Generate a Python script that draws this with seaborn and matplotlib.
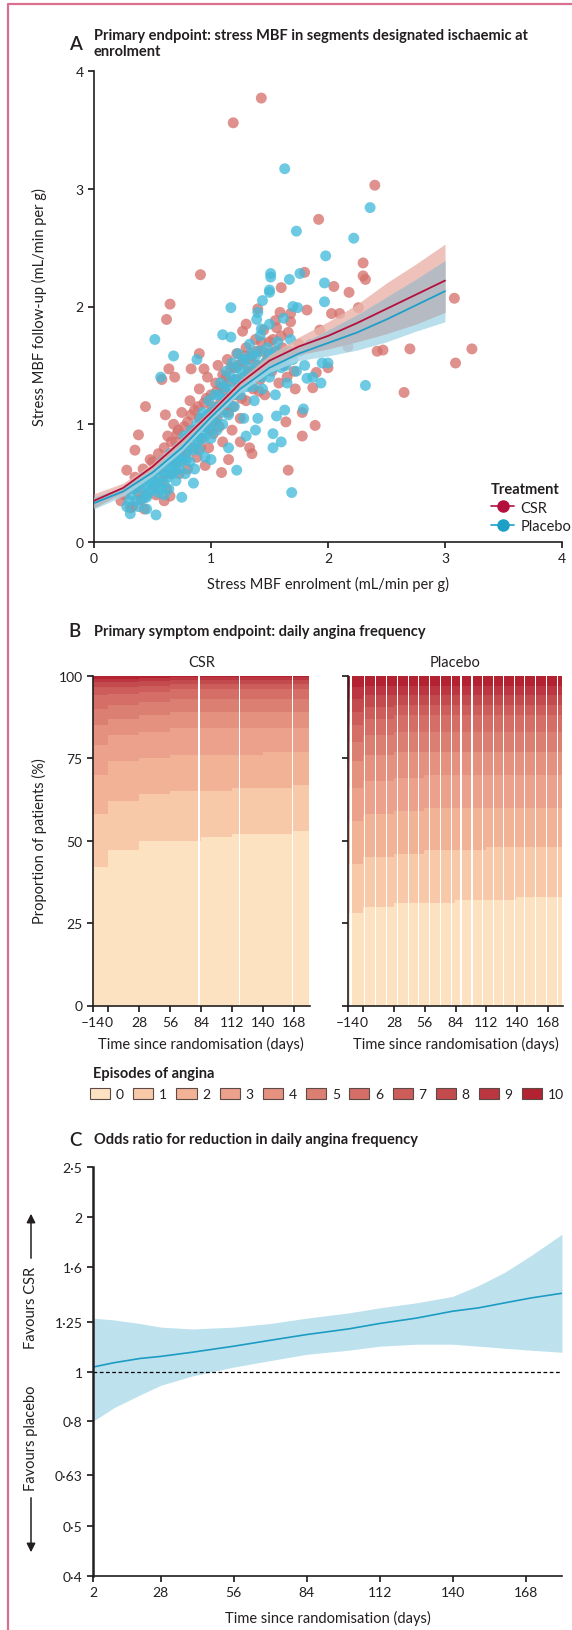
import matplotlib
matplotlib.use("Agg")
import matplotlib.pyplot as plt
from matplotlib.lines import Line2D
from matplotlib.patches import Patch
from matplotlib.ticker import NullLocator
import pandas as pd
import seaborn as sns

# ---------------- panel A: stress MBF scatter + spline fits ----------------
csr_pts = [
    (1.43, 3.77), (1.19, 3.56), (2.40, 3.03), (1.92, 2.74), (2.30, 2.37), (0.91, 2.27),
    (2.30, 2.26), (2.32, 2.23), (1.80, 2.29), (2.05, 2.17), (1.60, 2.16), (2.18, 2.12),
    (3.08, 2.07), (3.23, 1.64), (3.09, 1.52), (2.70, 1.64), (2.42, 1.62), (2.47, 1.63),
    (2.17, 1.66), (2.65, 1.27), (2.26, 1.99), (2.03, 1.94), (2.10, 1.94), (1.93, 1.80),
    (1.82, 1.97), (2.00, 1.48), (1.90, 1.44), (1.87, 1.31), (1.78, 1.10), (1.89, 0.99),
    (1.78, 0.90), (0.65, 2.02), (0.62, 1.89), (0.58, 1.38), (0.69, 1.40), (0.64, 1.47),
    (0.44, 1.15), (0.61, 1.08), (0.38, 0.91), (0.35, 0.78), (0.28, 0.61), (0.23, 0.35),
    (0.31, 0.29), (0.43, 0.28), (0.65, 0.39), (1.09, 0.59), (1.33, 0.80), (1.66, 0.61),
    (1.64, 1.02), (1.27, 1.79), (0.90, 1.60), (0.83, 1.47), (0.94, 1.47), (1.40, 1.98),
    (1.59, 1.95), (1.56, 1.82), (1.68, 1.87), (1.68, 1.94),
    (0.30, 0.45), (0.35, 0.55), (0.40, 0.50), (0.42, 0.62), (0.45, 0.40), (0.48, 0.70),
    (0.50, 0.58), (0.52, 0.48), (0.55, 0.75), (0.55, 0.62), (0.58, 0.52), (0.60, 0.80),
    (0.62, 0.68), (0.63, 0.90), (0.65, 0.58), (0.67, 0.75), (0.68, 1.00), (0.70, 0.85),
    (0.70, 0.65), (0.72, 0.95), (0.74, 0.78), (0.75, 1.10), (0.76, 0.70), (0.78, 0.88),
    (0.80, 1.02), (0.80, 0.62), (0.82, 1.20), (0.84, 0.80), (0.85, 0.95), (0.86, 1.12),
    (0.88, 0.72), (0.90, 1.05), (0.90, 1.30), (0.92, 0.88), (0.94, 1.18), (0.95, 0.98),
    (0.97, 1.40), (0.98, 0.80), (1.00, 1.10), (1.00, 1.25), (1.02, 0.92), (1.04, 1.35),
    (1.05, 1.05), (1.06, 1.50), (1.08, 1.18), (1.10, 0.85), (1.10, 1.42), (1.12, 1.28),
    (1.14, 1.55), (1.15, 1.10), (1.16, 1.36), (1.18, 0.95), (1.20, 1.48), (1.20, 1.25),
    (1.22, 1.60), (1.24, 1.32), (1.25, 1.05), (1.27, 1.52), (1.28, 1.40), (1.30, 1.65),
    (1.30, 1.20), (1.32, 1.45), (1.35, 1.58), (1.36, 1.30), (1.38, 1.72), (1.40, 1.50),
    (1.42, 1.38), (1.44, 1.62), (1.46, 1.25), (1.48, 1.55), (1.50, 1.70), (1.52, 1.45),
    (1.55, 1.62), (1.58, 1.35), (1.60, 1.75), (1.62, 1.50), (1.65, 1.40), (1.70, 1.60),
    (1.72, 1.30), (1.75, 1.68), (1.25, 0.85), (1.35, 0.75), (0.95, 0.65), (0.60, 0.35),
    (0.38, 0.42), (0.33, 0.30), (1.15, 0.70), (1.45, 1.80), (1.55, 1.88), (1.30, 1.85),
    (0.45, 0.55), (0.50, 0.68), (0.53, 0.40), (0.57, 0.66), (0.60, 0.58), (0.62, 0.45),
    (0.66, 0.85), (0.69, 0.70), (0.71, 0.92), (0.73, 0.58), (0.77, 0.98), (0.79, 0.75),
    (0.81, 0.88), (0.83, 1.08), (0.87, 0.95), (0.89, 1.15), (0.91, 0.80), (0.93, 1.02),
    (0.96, 1.22), (0.99, 0.95), (1.01, 1.15), (1.03, 1.02), (1.05, 1.28), (1.07, 0.98),
    (1.09, 1.32), (1.11, 1.12), (1.13, 1.40), (1.15, 1.22), (1.17, 1.48), (1.19, 1.15),
    (1.21, 1.38), (1.23, 1.50), (1.26, 1.22), (1.29, 1.58), (1.31, 1.35), (1.33, 1.55),
    (1.36, 1.45), (1.39, 1.62), (1.41, 1.28), (1.43, 1.70), (1.47, 1.48), (1.50, 1.60),
    (1.53, 1.72), (1.57, 1.52), (1.61, 1.65), (1.66, 1.78), (1.71, 1.45), (0.36, 0.48),
    (0.40, 0.36), (0.26, 0.40),
]
placebo_pts = [
    (1.63, 3.17), (2.36, 2.84), (1.73, 2.64), (2.22, 2.58), (1.98, 2.43), (1.51, 2.28),
    (1.51, 2.25), (1.67, 2.23), (1.76, 2.28), (1.97, 2.20), (1.50, 2.14), (2.35, 1.91),
    (2.32, 1.33), (1.97, 2.04), (1.95, 1.52), (1.82, 1.39), (1.94, 1.35), (1.79, 1.13),
    (0.52, 1.72), (0.68, 1.58), (0.57, 1.40), (0.31, 0.24), (0.53, 0.23), (0.42, 0.37),
    (0.75, 0.38), (1.22, 0.61), (1.53, 0.92), (1.53, 0.80), (1.38, 0.95), (1.69, 0.42),
    (1.56, 1.07), (1.63, 1.12), (1.74, 1.99), (1.17, 1.99), (1.10, 1.76), (1.17, 1.74),
    (0.88, 1.55), (1.50, 2.12), (1.44, 2.05), (1.39, 1.89), (1.43, 1.81), (2.00, 1.52),
    (1.87, 1.40),
    (0.28, 0.30), (0.32, 0.40), (0.36, 0.35), (0.40, 0.45), (0.42, 0.55), (0.45, 0.38),
    (0.48, 0.50), (0.50, 0.45), (0.52, 0.60), (0.55, 0.42), (0.56, 0.55), (0.58, 0.68),
    (0.60, 0.50), (0.62, 0.62), (0.64, 0.45), (0.65, 0.75), (0.67, 0.58), (0.68, 0.68),
    (0.70, 0.52), (0.72, 0.80), (0.73, 0.62), (0.75, 0.72), (0.77, 0.90), (0.78, 0.58),
    (0.80, 0.78), (0.82, 0.68), (0.83, 0.95), (0.85, 0.85), (0.86, 0.62), (0.88, 1.00),
    (0.90, 0.78), (0.92, 0.92), (0.93, 1.10), (0.95, 0.72), (0.96, 0.98), (0.98, 1.20),
    (1.00, 0.88), (1.01, 1.05), (1.03, 1.25), (1.05, 0.95), (1.06, 1.15), (1.08, 1.35),
    (1.10, 1.00), (1.11, 1.22), (1.13, 1.45), (1.15, 1.08), (1.16, 1.30), (1.18, 1.52),
    (1.20, 1.15), (1.21, 1.38), (1.23, 1.60), (1.25, 1.25), (1.26, 1.45), (1.28, 1.05),
    (1.30, 1.55), (1.31, 1.32), (1.33, 1.68), (1.35, 1.40), (1.37, 1.20), (1.38, 1.58),
    (1.40, 1.45), (1.42, 1.75), (1.44, 1.30), (1.46, 1.52), (1.48, 1.65), (1.50, 1.40),
    (1.52, 1.58), (1.55, 1.25), (1.57, 1.70), (1.60, 1.48), (1.62, 1.60), (1.65, 1.35),
    (1.68, 1.72), (1.70, 1.55), (1.73, 1.45), (1.76, 1.62), (1.80, 1.50), (1.85, 1.68),
    (1.15, 0.80), (1.00, 0.70), (0.85, 0.50), (0.60, 0.40), (0.45, 0.28), (1.30, 0.90),
    (1.40, 1.05), (1.60, 0.85), (1.50, 1.85), (1.40, 1.95), (1.62, 1.90), (1.70, 2.00),
    (0.35, 0.45), (0.38, 0.30), (0.44, 0.48), (0.47, 0.42), (0.51, 0.52), (0.54, 0.50),
    (0.57, 0.45), (0.59, 0.60), (0.61, 0.70), (0.63, 0.55), (0.66, 0.65), (0.69, 0.60),
    (0.71, 0.72), (0.74, 0.68), (0.76, 0.82), (0.79, 0.70), (0.81, 0.90), (0.84, 0.78),
    (0.87, 0.92), (0.89, 0.85), (0.91, 1.05), (0.94, 0.88), (0.97, 1.08), (0.99, 0.95),
    (1.02, 1.12), (1.04, 1.02), (1.07, 1.25), (1.09, 1.10), (1.12, 1.32), (1.14, 1.18),
    (1.17, 1.40), (1.19, 1.25), (1.22, 1.48), (1.24, 1.35), (1.27, 1.55), (1.29, 1.40),
    (1.32, 1.48), (1.34, 1.60), (1.36, 1.32), (1.39, 1.50), (1.41, 1.62), (1.43, 1.40),
    (1.47, 1.45), (1.49, 1.58), (1.53, 1.48), (1.56, 1.62), (1.59, 1.55), (1.64, 1.50),
    (1.67, 1.62), (0.30, 0.35),
]
fit_x = [0, 0.25, 0.5, 0.75, 1.0, 1.25, 1.5, 1.75, 2.0, 2.25, 2.5, 2.75, 3.0]
csr_fit = [0.35, 0.46, 0.64, 0.86, 1.10, 1.35, 1.54, 1.66, 1.75, 1.86, 1.98, 2.10, 2.22]
csr_lo = [0.29, 0.42, 0.61, 0.83, 1.07, 1.32, 1.50, 1.59, 1.64, 1.70, 1.77, 1.85, 1.95]
csr_hi = [0.41, 0.50, 0.67, 0.89, 1.13, 1.38, 1.59, 1.74, 1.87, 2.02, 2.20, 2.36, 2.53]
pla_fit = [0.33, 0.43, 0.59, 0.80, 1.06, 1.30, 1.48, 1.60, 1.69, 1.78, 1.89, 2.01, 2.13]
pla_lo = [0.28, 0.39, 0.56, 0.77, 1.03, 1.27, 1.44, 1.54, 1.58, 1.63, 1.70, 1.79, 1.87]
pla_hi = [0.38, 0.47, 0.62, 0.83, 1.09, 1.33, 1.53, 1.67, 1.80, 1.93, 2.08, 2.23, 2.39]

# ---------------- panel B: daily angina episodes (% of patients) ----------------
episodes = ["0", "1", "2", "3", "4", "5", "6", "7", "8", "9", "10"]
angina_colors = ["#fde2c2", "#f8c9a8", "#f2b296", "#eba18b", "#e4917f", "#dc7f73",
                 "#d46e67", "#cc5d5b", "#c44b4d", "#bb3640", "#b22230"]
period_start = [-14, 0, 28, 56, 84, 112, 140, 168]
period_end = [-1, 27, 55, 83, 111, 139, 167, 181]
csr_pct = [
    [42, 16, 12, 9, 6, 5, 4, 2.5, 1.5, 1, 1],
    [47, 15, 12, 8, 5, 4, 3.5, 2, 1.5, 1, 1],
    [50, 14, 11, 8, 5, 4, 3, 2, 1.5, 0.8, 0.7],
    [50, 15, 11, 8, 5, 4, 3, 1.5, 1.2, 0.8, 0.5],
    [51, 14, 11, 8, 5, 4, 3, 1.5, 1.2, 0.8, 0.5],
    [52, 14, 10, 8, 5, 4, 3, 1.5, 1.2, 0.8, 0.5],
    [52, 14, 11, 7, 5, 4, 3, 1.5, 1.2, 0.8, 0.5],
    [53, 14, 10, 7, 5, 4, 3, 1.5, 1.2, 0.8, 0.5],
]
placebo_pct = [
    [28, 15, 13, 10, 8, 6, 5, 4, 4, 3.5, 3.5],
    [30, 15, 13, 10, 8, 6, 5, 3.5, 3.5, 3, 3],
    [31, 15, 13, 10, 8, 6, 5, 3, 3, 3, 3],
    [31, 16, 13, 10, 7, 6, 5, 3, 3, 3, 3],
    [32, 15, 13, 10, 7, 6, 5, 3, 3, 3, 3],
    [32, 16, 12, 10, 7, 6, 5, 3, 3, 3, 3],
    [33, 15, 12, 10, 7, 6, 5, 3, 3, 3, 3],
    [33, 15, 12, 10, 7, 6, 5, 3, 3, 3, 3],
]
csr_gap_days = [82, 119, 167]
placebo_gap_days = [-12, -11, 1, 11, 21, 31, 41, 50, 60, 70, 80, 89, 99, 109,
                    119, 128, 138, 147, 157, 167, 177]
b_ticks = [-14, 0, 28, 56, 84, 112, 140, 168]
b_ticklabels = ["\u201314", "0", "28", "56", "84", "112", "140", "168"]

# ---------------- panel C: odds ratio over time ----------------
c_days = [2, 10, 20, 28, 40, 56, 70, 84, 100, 112, 126, 140, 150, 160, 170, 182]
c_or = [1.02, 1.04, 1.06, 1.07, 1.09, 1.12, 1.15, 1.18, 1.21, 1.24, 1.27, 1.31, 1.33, 1.36, 1.39, 1.42]
c_lo = [0.80, 0.85, 0.90, 0.94, 0.98, 1.02, 1.05, 1.08, 1.10, 1.12, 1.13, 1.13, 1.12, 1.11, 1.10, 1.09]
c_hi = [1.27, 1.26, 1.24, 1.22, 1.21, 1.22, 1.24, 1.27, 1.30, 1.33, 1.36, 1.40, 1.47, 1.56, 1.68, 1.85]
c_ticks = [0.4, 0.5, 0.63, 0.8, 1, 1.25, 1.6, 2, 2.5]
c_ticklabels = ["0\u00b74", "0\u00b75", "0\u00b763", "0\u00b78", "1", "1\u00b725", "1\u00b76", "2", "2\u00b75"]
c_xticks = [2, 28, 56, 84, 112, 140, 168]

# ---------------- style ----------------
sns.set_theme(style="ticks")
plt.rcParams["font.family"] = ["Lato", "DejaVu Sans"]
ink = "#231f20"
plt.rcParams.update({
    "axes.edgecolor": ink, "axes.linewidth": 1.2, "xtick.color": ink, "ytick.color": ink,
    "xtick.labelcolor": ink, "ytick.labelcolor": ink, "text.color": ink, "axes.labelcolor": ink,
    "xtick.labelsize": 10, "ytick.labelsize": 10, "axes.labelsize": 10.5,
    "xtick.major.size": 4, "ytick.major.size": 4,
})

W, H = 572, 1631
def fx(px):
    return px / W
def fy(py):
    return 1 - py / H

fig = plt.figure(figsize=(W / 100, H / 100), dpi=100)
fig.add_artist(Line2D([fx(8), fx(8), 1.0], [0, fy(5), fy(5)], color="#d9708f", lw=1.6,
                      transform=fig.transFigure))

def panel_title(letter, text, py):
    fig.text(fx(75), fy(py), letter, fontsize=13.5, fontweight="semibold", ha="center", va="center")
    fig.text(fx(94), fy(py), text, fontsize=10.5, fontweight="bold", ha="left", va="center")

# ---- A ----
axA = fig.add_axes([fx(94), fy(543), (562 - 94) / W, (543 - 72) / H])
pts = pd.DataFrame(
    [("CSR", x, y) for x, y in csr_pts] + [("Placebo", x, y) for x, y in placebo_pts],
    columns=["group", "x", "y"])
sns.scatterplot(data=pts, x="x", y="y", hue="group",
                palette={"CSR": "#d5726d", "Placebo": "#45bbda"},
                s=62, alpha=0.78, edgecolor="none", legend=False, ax=axA, zorder=2)
axA.fill_between(fit_x, csr_lo, csr_hi, color="#eab3a9", alpha=0.8, lw=0, zorder=3)
axA.fill_between(fit_x, pla_lo, pla_hi, color="#a9d8e8", alpha=0.8, lw=0, zorder=3)
ov_lo = [max(a, b) for a, b in zip(csr_lo, pla_lo)]
ov_hi = [min(a, b) for a, b in zip(csr_hi, pla_hi)]
axA.fill_between(fit_x, ov_lo, ov_hi, color="#b7b8c0", alpha=0.9, lw=0, zorder=3)
sns.lineplot(x=fit_x, y=pla_fit, color="#1d9fc8", lw=1.3, ax=axA, zorder=4)
sns.lineplot(x=fit_x, y=csr_fit, color="#b3103d", lw=1.3, ax=axA, zorder=4)
axA.set_xlim(0, 4)
axA.set_ylim(0, 4)
axA.set_xticks([0, 1, 2, 3, 4])
axA.set_yticks([0, 1, 2, 3, 4])
axA.set_xlabel("Stress MBF enrolment (mL/min per g)", labelpad=8)
axA.set_ylabel("Stress MBF follow-up (mL/min per g)")
axA.yaxis.set_label_coords((47 - 94) / 468, 0.5)
sns.despine(ax=axA)
handles = [Line2D([0], [0], color="#b3103d", marker="o", markersize=8, lw=1.2),
           Line2D([0], [0], color="#1d9fc8", marker="o", markersize=8, lw=1.2)]
axA.legend(handles, ["CSR", "Placebo"], title="Treatment", loc="upper left",
           bbox_to_anchor=(fx(478), fy(470)), bbox_transform=fig.transFigure,
           frameon=False, fontsize=10.5, handlelength=1.6, handletextpad=0.4,
           labelspacing=0.3, alignment="left",
           title_fontproperties={"weight": "bold", "size": 10.5})
panel_title("A", "Primary endpoint: stress MBF in segments designated ischaemic at\nenrolment", 44)

# ---- B ----
rows = []
for grp, table, gaps in [("CSR", csr_pct, csr_gap_days), ("Placebo", placebo_pct, placebo_gap_days)]:
    for s, e, pcts in zip(period_start, period_end, table):
        for d in range(s, e + 1):
            if d in gaps:
                continue
            for ep, p in zip(episodes, pcts):
                rows.append((grp, d, ep, p))
dfB = pd.DataFrame(rows, columns=["group", "day", "episode", "pct"])
pal = dict(zip(episodes, angina_colors))

bh = (1006.5 - 676.7) / H
axB1 = fig.add_axes([fx(93), fy(1006.5), (309.5 - 93) / W, bh])
axB2 = fig.add_axes([fx(348), fy(1006.5), (563 - 348) / W, bh])
for ax, grp in [(axB1, "CSR"), (axB2, "Placebo")]:
    sns.histplot(data=dfB[dfB["group"] == grp], x="day", hue="episode", weights="pct",
                 hue_order=episodes[::-1], palette=pal, multiple="stack", discrete=True,
                 linewidth=0, alpha=1, legend=False, ax=ax, antialiased=False)
    ax.set_xlim(-14, 182)
    ax.set_ylim(0, 100)
    ax.set_yticks([0, 25, 50, 75, 100])
    ax.set_xticks(b_ticks)
    ax.set_xticklabels(b_ticklabels)
    ax.set_xlabel("Time since randomisation (days)", labelpad=6)
    ax.set_title(grp, fontsize=10.5, pad=7)
    sns.despine(ax=ax)
axB1.set_ylabel("Proportion of patients (%)")
axB1.yaxis.set_label_coords((47 - 93) / 216.5, 0.5)
axB2.set_ylabel("")
axB2.set_yticklabels([])
panel_title("B", "Primary symptom endpoint: daily angina frequency", 632)

fig.text(fx(93), fy(1074), "Episodes of angina", fontsize=10.5, fontweight="bold", va="center")
leg_handles = [Patch(facecolor=c, edgecolor="#5b4a47", lw=0.8) for c in angina_colors]
fig.legend(leg_handles, episodes, loc="center left", bbox_to_anchor=(fx(90), fy(1095)),
           ncol=11, frameon=False, fontsize=10, handlelength=1.45, handleheight=0.8,
           handletextpad=0.4, columnspacing=0.68, borderaxespad=0, borderpad=0)

# ---- C ----
axC = fig.add_axes([fx(93), fy(1577), (562 - 93) / W, (1577 - 1168) / H])
axC.fill_between(c_days, c_lo, c_hi, color="#bde2ee", lw=0)
sns.lineplot(x=c_days, y=c_or, color="#1c9cc2", lw=1.2, ax=axC)
axC.axhline(1, color="black", lw=0.9, ls=(0, (3, 2)))
axC.set_yscale("log")
axC.set_ylim(0.4, 2.5)
axC.set_xlim(2, 182)
axC.set_yticks(c_ticks)
axC.set_yticklabels(c_ticklabels)
axC.yaxis.set_minor_locator(NullLocator())
axC.set_xticks(c_xticks)
axC.set_xlabel("Time since randomisation (days)", labelpad=8)
axC.spines["left"].set_linewidth(1.8)
sns.despine(ax=axC)
panel_title("C", "Odds ratio for reduction in daily angina frequency", 1140)

fig.text(fx(31), fy(1308), "Favours CSR", rotation=90, ha="center", va="center", fontsize=10.5)
fig.text(fx(31), fy(1438), "Favours placebo", rotation=90, ha="center", va="center", fontsize=10.5)
arrow = dict(arrowstyle="-|>", color=ink, lw=1.1, mutation_scale=13)
axC.annotate("", xy=(fx(31), fy(1212)), xytext=(fx(31), fy(1262)),
             xycoords="figure fraction", textcoords="figure fraction",
             arrowprops=arrow, annotation_clip=False)
axC.annotate("", xy=(fx(31), fy(1556)), xytext=(fx(31), fy(1496)),
             xycoords="figure fraction", textcoords="figure fraction",
             arrowprops=arrow, annotation_clip=False)

fig.savefig("out.png", dpi=100)
